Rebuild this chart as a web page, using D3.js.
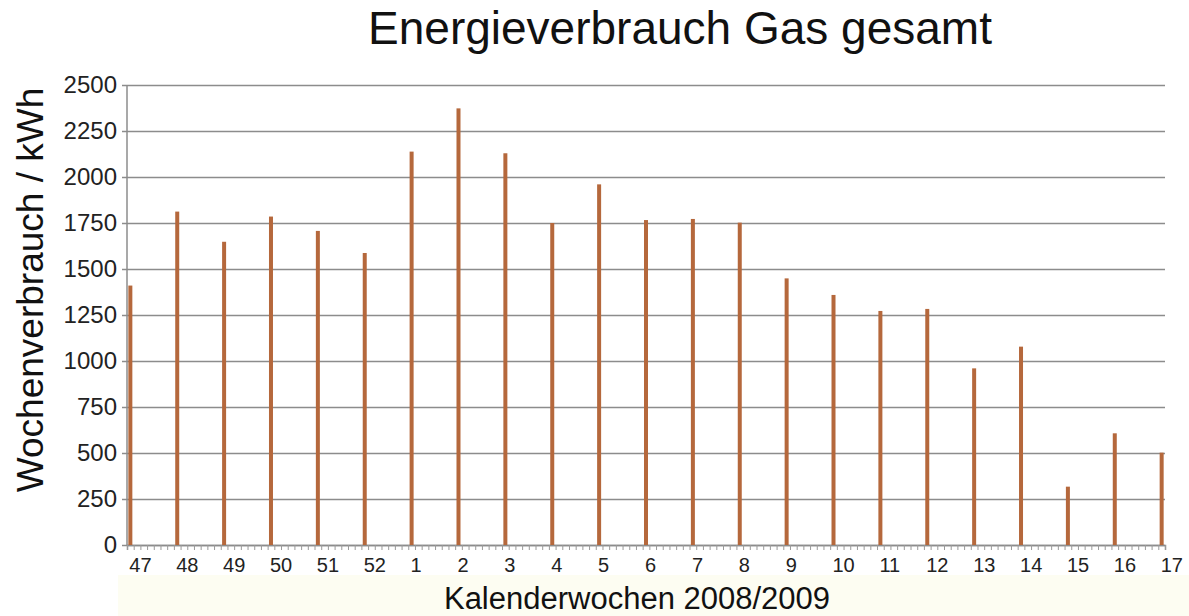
<!DOCTYPE html>
<html>
<head>
<meta charset="utf-8">
<script src="https://cdn.jsdelivr.net/npm/d3@7"></script>
<style>
  body { margin: 0; background: #fff; }
  text { font-family: "Liberation Sans", Arial, sans-serif; }
</style>
</head>
<body>
<div id="chart"></div>
<script>
// calendar weeks 2008/2009
const weeks = ["47","48","49","50","51","52","1","2","3","4","5","6","7","8","9","10","11","12","13","14","15","16","17"]
// weekly gas consumption in kWh
const consumption = [1410,1812,1648,1785,1707,1587,2138,2373,2129,1750,1960,1766,1772,1752,1449,1359,1272,1283,960,1078,317,607,502]
const yTicks = [0,250,500,750,1000,1250,1500,1750,2000,2250,2500]

const width = 1189,
    height = 616;

const svg = d3.select("#chart")
  .append("svg")
    .attr("width", width)
    .attr("height", height)

// faint cream band under the axis
svg.append("rect")
  .attr("x", 118).attr("y", 575)
  .attr("width", width - 118).attr("height", height - 575)
  .attr("fill", "#fdfdf2")

// x runs in days, one bar per week
const nDays = (weeks.length - 1) * 7 + 1
const x = d3.scaleLinear()
  .domain([0, nDays])
  .range([127, 1165])
const y = d3.scaleLinear()
  .domain([0, 2500])
  .range([545, 85])

// grid + y labels
const yAxis = svg.append("g")
  .attr("transform", "translate(122,0)")
  .call(d3.axisLeft(y).tickValues(yTicks).tickSize(-(1165 - 122)).tickPadding(5).tickFormat(d3.format("d")))
yAxis.select(".domain").remove()
yAxis.selectAll(".tick line")
  .attr("stroke", "#8c8c8c")
  .attr("stroke-width", 1.5)
yAxis.selectAll(".tick text")
  .attr("fill", "#222")
  .style("font-size", "24px")

// y axis line
svg.append("line")
  .attr("x1", 127).attr("x2", 127)
  .attr("y1", y(2500)).attr("y2", y(0))
  .attr("stroke", "#8c8c8c")
  .attr("stroke-width", 1.5)

// daily minor ticks
const xAxis = svg.append("g")
  .attr("transform", `translate(0,${y(0)})`)
  .call(d3.axisBottom(x).tickValues(d3.range(0, nDays + 1)).tickSize(5).tickFormat(""))
xAxis.select(".domain")
  .attr("stroke", "#8c8c8c")
  .attr("stroke-width", 1.5)
xAxis.selectAll(".tick line")
  .attr("stroke", "#9a9a9a")

// bars (thin columns)
svg.selectAll("rect.bar")
  .data(consumption)
  .join("rect")
    .attr("class", "bar")
    .attr("x", (d, i) => x(i * 7 + 0.5) - 2)
    .attr("y", d => y(d))
    .attr("width", 4)
    .attr("height", d => y(0) - y(d))
    .attr("fill", "#b5683c")

// week labels, start at the bar
svg.append("g")
  .selectAll("text")
  .data(weeks)
  .join("text")
    .attr("x", (d, i) => x(i * 7 + 0.5) - 1)
    .attr("y", 572)
    .attr("fill", "#222")
    .style("font-size", "20px")
    .text(d => d)

// titles
svg.append("text")
  .attr("x", 680)
  .attr("y", 44)
  .attr("text-anchor", "middle")
  .attr("fill", "#111")
  .style("font-size", "46px")
  .text("Energieverbrauch Gas gesamt")

svg.append("text")
  .attr("x", 637)
  .attr("y", 609)
  .attr("text-anchor", "middle")
  .attr("fill", "#111")
  .style("font-size", "31px")
  .text("Kalenderwochen 2008/2009")

svg.append("text")
  .attr("transform", "translate(43,290) rotate(-90)")
  .attr("text-anchor", "middle")
  .attr("fill", "#111")
  .style("font-size", "37px")
  .text("Wochenverbrauch / kWh")
</script>
</body>
</html>
